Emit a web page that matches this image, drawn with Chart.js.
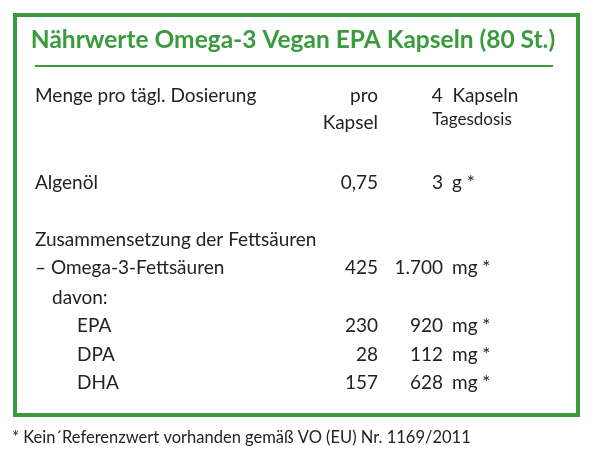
<!DOCTYPE html>
<html>
<head>
<meta charset="utf-8">
<script src="https://cdn.jsdelivr.net/npm/chart.js@4"></script>
<style>
  body { margin: 0; background: #fff; }
  canvas { display: block; }
</style>
</head>
<body>
<canvas id="nutritionChart" width="593" height="461"></canvas>
<script>
// Table content
const title = 'Nährwerte Omega-3 Vegan EPA Kapseln (80 St.)';
const rowLabels = ['Algenöl', '– Omega-3-Fettsäuren', 'EPA', 'DPA', 'DHA'];
const rowIndent = [0, 0, 1, 1, 1];
const perCapsule = ['0,75', '425', '230', '28', '157'];
const perDay = ['3', '1.700', '920', '112', '628'];
const units = ['g *', 'mg *', 'mg *', 'mg *', 'mg *'];
const footnote = '* Kein´Referenzwert vorhanden gemäß VO (EU) Nr. 1169/2011';

const GREEN = '#3a9a3d';
const TEXT = '#222';
const FONT = 'Lato, "Open Sans", sans-serif';

// Draws the table onto the chart canvas
const tablePlugin = {
    id: 'nutritionTable',
    afterDraw(chart) {
        const ctx = chart.ctx;
        ctx.save();

        // frame
        ctx.strokeStyle = GREEN;
        ctx.lineWidth = 4;
        ctx.strokeRect(15, 15, 563, 400);

        // title + rule
        ctx.fillStyle = GREEN;
        ctx.font = 'bold 24.5px ' + FONT;
        ctx.textAlign = 'center';
        ctx.textBaseline = 'middle';
        ctx.fillText(title, 293, 40);
        ctx.fillRect(35, 65, 518, 2);

        ctx.fillStyle = TEXT;
        ctx.font = '19px ' + FONT;

        // header
        ctx.textAlign = 'left';
        ctx.fillText('Menge pro tägl. Dosierung', 35, 96);
        ctx.textAlign = 'right';
        ctx.fillText('pro', 378, 96);
        ctx.fillText('Kapsel', 378, 123);
        ctx.textAlign = 'center';
        ctx.fillText('4  Kapseln', 475, 96);
        ctx.font = '17px ' + FONT;
        ctx.fillText('Tagesdosis', 472, 120);
        ctx.font = '19px ' + FONT;

        ctx.textAlign = 'left';
        ctx.fillText('Zusammensetzung der Fettsäuren', 35, 240);
        ctx.fillText('davon:', 52, 298);

        const rowY = [183, 268, 326, 355, 383];
        rowLabels.forEach((label, i) => {
            const y = rowY[i];
            ctx.textAlign = 'left';
            ctx.fillText(label, rowIndent[i] ? 77 : 35, y);
            ctx.textAlign = 'right';
            ctx.fillText(perCapsule[i], 378, y);
            ctx.fillText(perDay[i], 443, y);
            ctx.textAlign = 'left';
            ctx.fillText(units[i], 452, y);
        });

        ctx.font = '16.5px ' + FONT;
        ctx.fillText(footnote, 12, 438);
        ctx.restore();
    }
};

new Chart(document.getElementById('nutritionChart'), {
    type: 'scatter',
    data: { datasets: [] },
    options: {
        responsive: false,
        animation: false,
        plugins: { legend: { display: false }, tooltip: { enabled: false } },
        scales: { x: { display: false }, y: { display: false } }
    },
    plugins: [tablePlugin]
});
</script>
</body>
</html>
